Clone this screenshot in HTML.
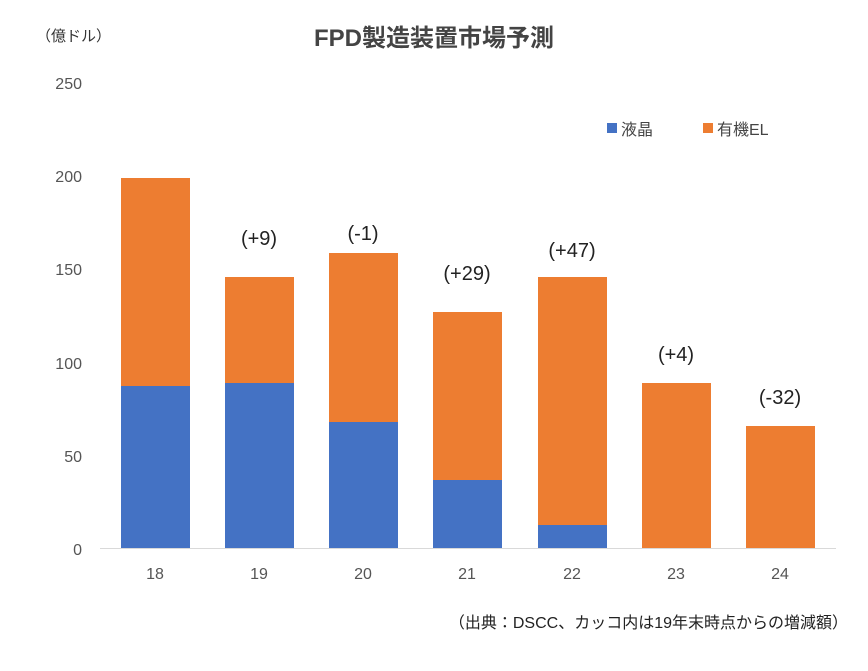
<!DOCTYPE html>
<html><head><meta charset="utf-8"><style>
body{margin:0;background:#fff;}
svg text{font-family:"Liberation Sans","Noto Sans CJK JP",sans-serif;}
</style></head><body>
<svg width="868" height="666" xmlns="http://www.w3.org/2000/svg">
<rect width="868" height="666" fill="#fff"/>
<text x="434" y="46" text-anchor="middle" font-size="24" font-weight="bold" fill="#444">FPD製造装置市場予測</text>
<text x="36" y="41" font-size="15" fill="#333">（億ドル）</text>
<g font-size="16" fill="#555" text-anchor="end">
<text x="82" y="89">250</text><text x="82" y="182">200</text><text x="82" y="275">150</text>
<text x="82" y="369">100</text><text x="82" y="462">50</text><text x="82" y="555">0</text>
</g>
<line x1="100" y1="548.5" x2="836" y2="548.5" stroke="#d9d9d9" stroke-width="1"/>
<g fill="#ED7D31">
<rect x="121" y="178" width="69" height="208"/>
<rect x="225" y="277" width="69" height="106"/>
<rect x="329" y="253" width="69" height="169"/>
<rect x="433" y="312" width="69" height="168"/>
<rect x="538" y="277" width="69" height="248"/>
<rect x="642" y="383" width="69" height="165"/>
<rect x="746" y="426" width="69" height="122"/>
</g>
<g fill="#4472C4">
<rect x="121" y="386" width="69" height="162"/>
<rect x="225" y="383" width="69" height="165"/>
<rect x="329" y="422" width="69" height="126"/>
<rect x="433" y="480" width="69" height="68"/>
<rect x="538" y="525" width="69" height="23"/>
</g>
<g font-size="16" fill="#555" text-anchor="middle">
<text x="155" y="579">18</text><text x="259" y="579">19</text><text x="363" y="579">20</text>
<text x="467" y="579">21</text><text x="572" y="579">22</text><text x="676" y="579">23</text><text x="780" y="579">24</text>
</g>
<g font-size="20" fill="#222" text-anchor="middle">
<text x="259" y="245">(+9)</text><text x="363" y="240">(-1)</text><text x="467" y="280">(+29)</text>
<text x="572" y="257">(+47)</text><text x="676" y="361">(+4)</text><text x="780" y="404">(-32)</text>
</g>
<rect x="607" y="123" width="10" height="10" fill="#4472C4"/>
<text x="621" y="135" font-size="16" fill="#444">液晶</text>
<rect x="703" y="123" width="10" height="10" fill="#ED7D31"/>
<text x="717" y="135" font-size="16" fill="#444">有機EL</text>
<text x="848" y="628" text-anchor="end" font-size="16" fill="#222">（出典：DSCC、カッコ内は19年末時点からの増減額）</text>
</svg>
</body></html>
